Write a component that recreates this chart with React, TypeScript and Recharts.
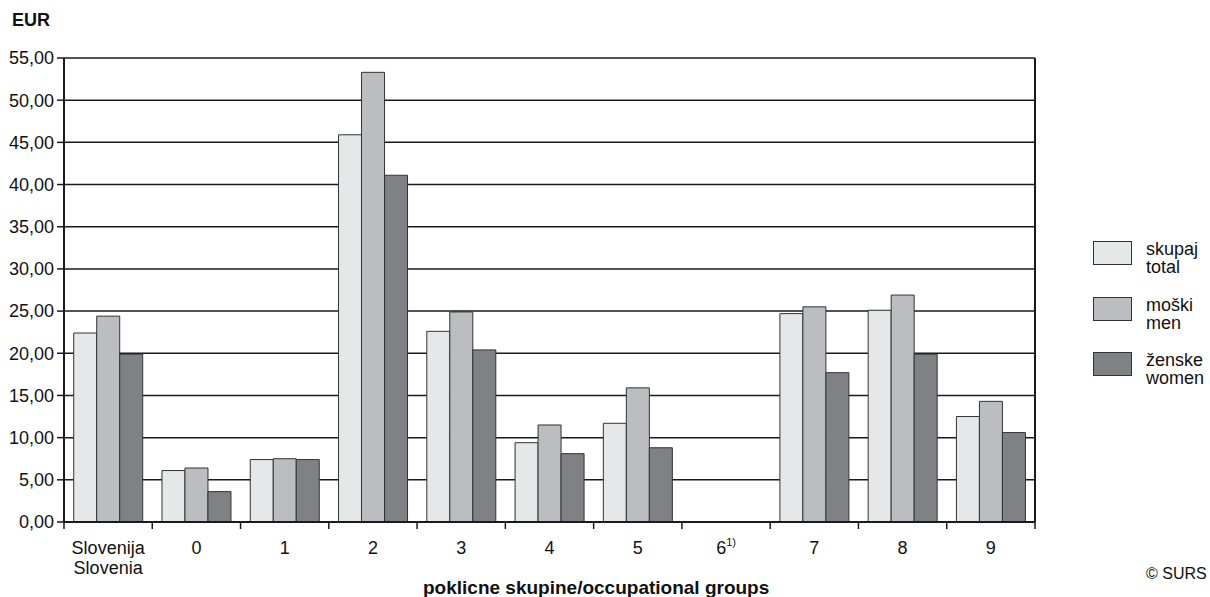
import React from 'react'
import { BarChart, Bar, XAxis, YAxis, CartesianGrid, Legend } from 'recharts'

const CATEGORIES = ['Slovenija\nSlovenia', '0', '1', '2', '3', '4', '5', '6', '7', '8', '9']
const TOTAL = [22.4, 6.1, 7.4, 45.9, 22.6, 9.4, 11.7, null, 24.7, 25.1, 12.5]
const MEN = [24.4, 6.4, 7.5, 53.3, 24.9, 11.5, 15.9, null, 25.5, 26.9, 14.3]
const WOMEN = [19.9, 3.6, 7.4, 41.1, 20.4, 8.1, 8.8, null, 17.7, 19.9, 10.6]
const Y_TICKS = [0, 5, 10, 15, 20, 25, 30, 35, 40, 45, 50, 55]
const SERIES_SL = ['skupaj', 'moški', 'ženske']
const SERIES_EN = ['total', 'men', 'women']
const SERIES_KEYS = ['total', 'men', 'women']
const SERIES_COLORS = ['#e6e7e9', '#bcbdc1', '#808185']

const FONT = '"Liberation Sans", Arial, sans-serif'
const INK = '#1a1a1a'

const chartData = CATEGORIES.map((name, i) => ({
  name,
  total: TOTAL[i],
  men: MEN[i],
  women: WOMEN[i],
}))

function CategoryTick(props: any) {
  const { x, y, payload, index } = props
  const half = payload.offset || 0
  const lines = String(payload.value).split('\n')
  const isLast = index === CATEGORIES.length - 1
  return (
    <g>
      <line x1={x - half} y1={y} x2={x - half} y2={y + 7} stroke={INK} strokeWidth={1.5} />
      {isLast && <line x1={x + half} y1={y} x2={x + half} y2={y + 7} stroke={INK} strokeWidth={1.5} />}
      <text x={x} y={y + 32} textAnchor="middle" fontSize={18} fill="#111" fontFamily={FONT}>
        {lines.map((l, i) => (
          <tspan key={i} x={x} dy={i === 0 ? 0 : 20}>
            {l}
          </tspan>
        ))}
        {payload.value === '6' && (
          <tspan dy={-8} fontSize={11}>
            1)
          </tspan>
        )}
      </text>
    </g>
  )
}

function LegendBox() {
  return (
    <div style={{ fontFamily: FONT, fontSize: 18, color: '#111' }}>
      {SERIES_SL.map((sl, i) => (
        <div key={sl} style={{ display: 'flex', alignItems: 'flex-start', height: 55.5 }}>
          <div
            style={{
              width: 37,
              height: 22,
              background: SERIES_COLORS[i],
              border: '1px solid #333',
              marginRight: 14,
            }}
          />
          <div style={{ lineHeight: '18px', marginTop: -1 }}>
            {sl}
            <br />
            {SERIES_EN[i]}
          </div>
        </div>
      ))}
    </div>
  )
}

export default function App() {
  return (
    <div style={{ position: 'absolute', left: 0, top: 0, width: 1210, height: 597, background: '#fff', fontFamily: FONT }}>
      <div style={{ position: 'absolute', left: 12, top: 10, fontSize: 18, fontWeight: 'bold', color: '#111' }}>EUR</div>
      <BarChart
        width={1210}
        height={597}
        data={chartData}
        margin={{ top: 58, right: 174, bottom: 0, left: 0 }}
        barCategoryGap="11%"
        barGap={0}
      >
        <CartesianGrid yAxisId="left" horizontal vertical={false} stroke={INK} strokeWidth={1.5} />
        <XAxis
          dataKey="name"
          height={75}
          interval={0}
          tickLine={false}
          tickSize={0}
          tickMargin={0}
          axisLine={{ stroke: INK, strokeWidth: 2 }}
          tick={<CategoryTick />}
        />
        <YAxis
          yAxisId="left"
          width={64}
          domain={[0, 55]}
          ticks={Y_TICKS}
          interval={0}
          tickSize={7}
          tickMargin={3}
          tickLine={{ stroke: INK, strokeWidth: 1.5 }}
          axisLine={{ stroke: INK, strokeWidth: 2 }}
          tick={{ fill: '#111', fontSize: 18, fontFamily: FONT }}
          tickFormatter={(v: number) => v.toFixed(2).replace('.', ',')}
        />
        <YAxis
          yAxisId="right"
          orientation="right"
          width={1}
          domain={[0, 55]}
          tick={false}
          tickLine={false}
          axisLine={{ stroke: INK, strokeWidth: 2 }}
        />
        <Legend
          layout="vertical"
          align="center"
          verticalAlign="middle"
          content={<LegendBox />}
          wrapperStyle={{ left: 1093, top: 241, width: 117 }}
        />
        {SERIES_KEYS.map((k, i) => (
          <Bar
            key={k}
            yAxisId="left"
            dataKey={k}
            name={SERIES_EN[i]}
            fill={SERIES_COLORS[i]}
            stroke="#333"
            strokeWidth={1}
            isAnimationActive={false}
          />
        ))}
      </BarChart>
      <div
        style={{
          position: 'absolute',
          left: 423,
          top: 577,
          fontSize: 19,
          fontWeight: 'bold',
          color: '#111',
          whiteSpace: 'nowrap',
        }}
      >
        poklicne skupine/occupational groups
      </div>
      <div style={{ position: 'absolute', left: 1146, top: 565, fontSize: 16, color: '#111' }}>© SURS</div>
    </div>
  )
}
